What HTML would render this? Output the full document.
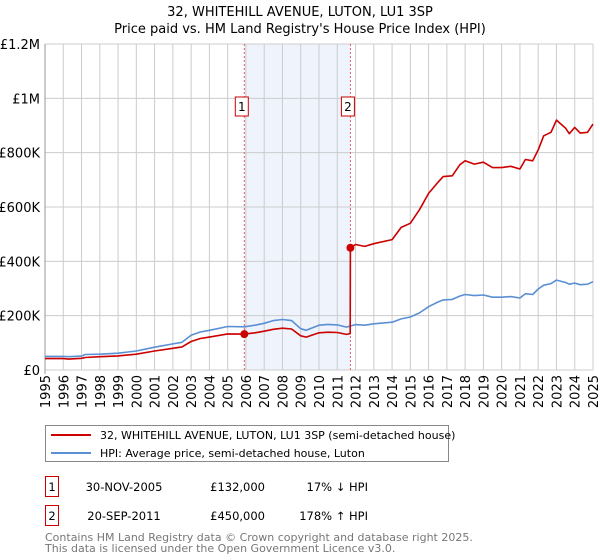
<!DOCTYPE html>
<html><head><meta charset="utf-8"><style>
body{margin:0;background:#fff;font-family:"Liberation Sans","DejaVu Sans",sans-serif;}
#wrap{position:relative;width:600px;height:560px;overflow:hidden}
</style></head><body><div id="wrap">
<svg id="svg" width="600" height="560" font-family="DejaVu Sans, Liberation Sans, sans-serif"></svg>
</div>
<script>
const dates=[1995.0,1996.0,1996.3,1997.0,1997.2,1998.0,1999.0,2000.0,2001.0,2002.0,2002.5,2003.0,2003.5,2004.0,2005.0,2005.91,2006.5,2007.0,2007.5,2008.0,2008.5,2009.0,2009.3,2010.0,2010.5,2011.0,2011.5,2011.71,2011.72,2012.0,2012.5,2013.0,2014.0,2014.5,2015.0,2015.5,2016.0,2016.5,2016.8,2017.3,2017.7,2018.0,2018.5,2019.0,2019.5,2020.0,2020.5,2021.0,2021.3,2021.7,2022.0,2022.3,2022.7,2023.0,2023.5,2023.7,2024.0,2024.3,2024.7,2025.0];
const hpiValues=[50,50,49,51,57,58,62,70,84,96,102,128,140,146,160,159,165,172,182,186,182,152,146,165,168,166,158,162,162,167,165,170,176,188,195,210,233,250,258,260,272,278,274,276,268,268,270,265,281,278,298,312,318,331,322,316,320,314,316,325];
const priceValues=[42,42,40,43,46,49,52,58,70,80,85,105,116,121,133,132,137,143,150,154,151,126,121,137,139,138,131,134,450,462,455,465,480,525,540,590,650,690,712,715,755,770,758,765,745,745,750,740,775,770,810,862,875,920,890,870,893,872,875,905];
const yTicks=[0,200,400,600,800,1000,1200];
const yTickLabels=["£0","£200K","£400K","£600K","£800K","£1M","£1.2M"];
const xYears=[1995,1996,1997,1998,1999,2000,2001,2002,2003,2004,2005,2006,2007,2008,2009,2010,2011,2012,2013,2014,2015,2016,2017,2018,2019,2020,2021,2022,2023,2024,2025];
const saleDates=[2005.91,2011.72];
const salePrices=[132,450];
const saleLabels=["1","2"];

const NS="http://www.w3.org/2000/svg",svg=document.getElementById('svg');
const X0=45,X1=593,Y0=370,Y1=44;
const xs=v=>X0+(v-1995)/30*(X1-X0);
const ys=v=>Y0-v/1200*(Y0-Y1);
function mk(t,a,p){const e=document.createElementNS(NS,t);for(const k in a)e.setAttribute(k,a[k]);(p||svg).appendChild(e);return e;}
function tx(s,a){const e=mk('text',a);e.textContent=s;return e;}

let t=tx("32, WHITEHILL AVENUE, LUTON, LU1 3SP",{x:300,y:16,'text-anchor':'middle','font-size':13});

t=tx("Price paid vs. HM Land Registry's House Price Index (HPI)",{x:300,y:33,'text-anchor':'middle','font-size':13});


let r=mk('rect',{x:xs(saleDates[0]),y:Y1,width:xs(saleDates[1])-xs(saleDates[0]),height:Y0-Y1,fill:'#eef3fc'});


const grid=mk('g',{stroke:'#cccccc','stroke-width':1});

xYears.forEach(y=>mk('line',{x1:xs(y),x2:xs(y),y1:Y1,y2:Y0},grid));
yTicks.forEach(v=>mk('line',{x1:X0,x2:X1,y1:ys(v),y2:ys(v)},grid));
mk('line',{x1:X0,x2:X0,y1:Y1,y2:Y0+4,stroke:'#999'});

yTicks.forEach((v,i)=>{const e=tx(yTickLabels[i],{x:X0-5,y:ys(v)+5,'text-anchor':'end','font-size':13,fill:'#000'});
});
xYears.forEach(y=>{const e=tx(String(y),{x:0,y:0,'text-anchor':'end','font-size':13,transform:`translate(${xs(y)+5},${Y0+5}) rotate(-90)`});
});

saleDates.forEach((d,i)=>{
 const l=mk('line',{x1:xs(d),x2:xs(d),y1:Y1,y2:Y0,stroke:'#e06060','stroke-width':1,'stroke-dasharray':'2,2'});
 
 const g=mk('g',{});
 mk('rect',{x:xs(d)-9,y:97,width:13,height:19,fill:'#fff',stroke:'#cc0000'},g);
 const e=tx(saleLabels[i],{x:xs(d)-2.5,y:111,'text-anchor':'middle','font-size':12});g.appendChild(e);
});

function path(vals,color,name){
 const d=dates.map((x,i)=>(i?'L':'M')+xs(x).toFixed(1)+','+ys(vals[i]).toFixed(1)).join('');
 const p=mk('path',{d:d,fill:'none',stroke:color,'stroke-width':1.6,'stroke-linejoin':'round'});
 
}
path(hpiValues,'#5b8fd4','hpi-line');
path(priceValues,'#cc0000','price-paid-line');
saleDates.forEach((d,i)=>{const c=mk('circle',{cx:xs(d),cy:ys(salePrices[i]),r:4,fill:'#cc0000'});
});

const lg=mk('g',{});
mk('rect',{x:45.5,y:425.5,width:403,height:36,fill:'#fff',stroke:'#888'},lg);
mk('line',{x1:51,x2:91,y1:435,y2:435,stroke:'#cc0000','stroke-width':2},lg);
mk('line',{x1:51,x2:91,y1:453,y2:453,stroke:'#5b8fd4','stroke-width':2},lg);
let e=tx("32, WHITEHILL AVENUE, LUTON, LU1 3SP (semi-detached house)",{x:100,y:439,'font-size':11});lg.appendChild(e);

e=tx("HPI: Average price, semi-detached house, Luton",{x:100,y:457,'font-size':11});lg.appendChild(e);


const rows=[["1","30-NOV-2005","£132,000","17% ↓ HPI",476],["2","20-SEP-2011","£450,000","178% ↑ HPI",505]];
rows.forEach(rw=>{const g=mk('g',{});
 mk('rect',{x:45.5,y:rw[4]+0.5,width:13,height:20,fill:'#fff',stroke:'#cc0000'},g);
 g.appendChild(tx(rw[0],{x:52,y:rw[4]+15,'text-anchor':'middle','font-size':11.5}));
 g.appendChild(tx(rw[1],{x:124,y:rw[4]+15,'text-anchor':'middle','font-size':11.5}));
 g.appendChild(tx(rw[2],{x:265,y:rw[4]+15,'text-anchor':'end','font-size':11.5}));
 g.appendChild(tx(rw[3],{x:368,y:rw[4]+15,'text-anchor':'end','font-size':11.5}));
});
e=tx("Contains HM Land Registry data © Crown copyright and database right 2025.",{x:45,y:541,'font-size':11,fill:'#777'});

e=tx("This data is licensed under the Open Government Licence v3.0.",{x:45,y:552,'font-size':11,fill:'#777'});

</script></body></html>
